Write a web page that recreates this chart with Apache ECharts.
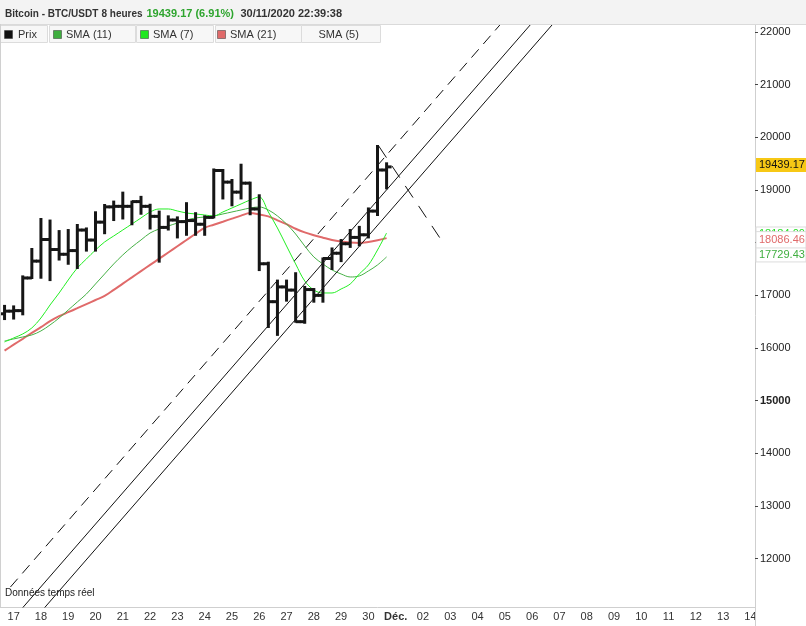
<!DOCTYPE html>
<html><head><meta charset="utf-8">
<script src="https://cdn.jsdelivr.net/npm/echarts@6/dist/echarts.min.js"></script>
<style>html,body{margin:0;padding:0;background:#fff}#c{width:806px;height:626px}</style>
</head><body><div id="c"></div>
<script>
// ---------- data ----------
const dayLabels = ['17','18','19','20','21','22','23','24','25','26','27','28','29','30','Déc.','02','03','04','05','06','07','08','09','10','11','12','13','14'];
const yTicks = [12000,13000,14000,15000,16000,17000,18000,19000,20000,21000,22000];
// 8h bars, first = 16/11 16h, last = 30/11 16h
const opens  = [16650,16700,16710,17330,17650,18060,17870,17780,17850,18240,18050,18390,18680,18690,18690,18780,18690,18500,18290,18430,18400,18420,18350,18480,19370,19150,18960,19130,18640,17600,16880,17160,17100,16500,17110,17000,17700,17800,17980,18100,18150,18600,19380];
const highs  = [16800,16790,17360,17880,18450,18420,18220,18240,18336,18270,18577,18715,18780,18950,18780,18870,18720,18590,18500,18480,18750,18560,18500,19390,19380,19190,19480,19140,18900,17620,17280,17280,17420,17160,17120,17700,17890,18050,18240,18300,18650,19836,19507];
const lows   = [16550,16560,16640,17330,17335,17290,17680,17600,17520,17850,17850,18180,18430,18460,18350,18550,18270,17640,18250,18100,18150,18150,18150,18480,18840,18710,18840,18540,17480,16400,16250,16900,16500,16480,16880,16880,17500,17650,17920,17950,18100,18526,19032];
const closes = [16700,16710,17330,17650,18060,17870,17780,17850,18240,18050,18390,18680,18690,18690,18780,18690,18500,18290,18430,18400,18420,18350,18480,19370,19150,18960,19130,18640,17600,16880,17160,17100,16500,17110,17000,17700,17800,17980,18100,18150,18600,19380,19439.17];
const sma7  = [16115,16191,16267,16381,16570,16817,17045,17292,17520,17691,17861,18013,18127,18241,18355,18469,18583,18640,18640,18602,18564,18545,18526,18507,18583,18659,18735,18811,18868,18583,18279,17937,17596,17273,17102,17045,17045,17121,17216,17406,17577,17861,18184];
const sma11 = [16134,16172,16210,16248,16324,16438,16570,16722,16874,17026,17216,17406,17596,17767,17918,18051,18184,18260,18317,18374,18431,18469,18488,18507,18545,18583,18621,18659,18678,18621,18507,18355,18165,17937,17729,17596,17482,17406,17349,17368,17463,17577,17729.43];
const sma21 = [15951,16063,16175,16289,16397,16509,16604,16680,16756,16834,16912,16988,17103,17223,17341,17460,17578,17696,17814,17933,18051,18169,18283,18341,18398,18457,18514,18562,18537,18499,18425,18351,18265,18195,18142,18095,18051,18022,18003,17994,18013,18045,18086.46];
// drawn lines, [bar position, price]
const trendDashed = [[-0.35, 11463],[60, 23432]];
const trendSolidA = [[-1.5, 10575],[60, 22771]];
const trendSolidB = [[-1.5, 10098],[60, 22295]];
const projection  = [[40.13, 19836],[47.23, 17994]];

// ---------- chart ----------
const FONT = '"Liberation Sans", Arial, sans-serif';
const chart = echarts.init(document.getElementById('c'));
const pos = i => i - 1;
const ohlc = opens.map((o,i)=>[pos(i), o, highs[i], lows[i], closes[i]]);
const asLine = arr => arr.map((v,i)=>[pos(i), v]);
const xTickPos = dayLabels.map((_,d)=>d*3);

const trendSeries = (data, type, name) => ({
  name, type:'line', data, showSymbol:false, silent:true, clip:true, z:3,
  lineStyle:{color:'#111', width:1, type}
});

chart.setOption({
  animation:false,
  grid:{left:-5.5, right:51, top:24, bottom:19, containLabel:false},
  xAxis:{type:'value', min:-1.5, max:81.5,
    axisLine:{show:true, onZero:false, lineStyle:{color:'#cfcfcf'}},
    axisTick:{show:false},
    splitLine:{show:false},
    axisLabel:{customValues:xTickPos, margin:4, color:'#333', fontSize:11, fontFamily:FONT,
      formatter:v=>{const l=dayLabels[Math.round(v/3)]; return l==='Déc.'?'{b|Déc.}':l;},
      rich:{b:{fontWeight:'bold', color:'#333', fontSize:11, fontFamily:FONT}}}
  },
  yAxis:{type:'value', position:'right', min:11083, max:22152, splitNumber:11,
    axisLine:{show:true, onZero:false, lineStyle:{color:'#cfcfcf'}},
    axisTick:{show:true, length:3, customValues:yTicks, lineStyle:{color:'#444'}},
    splitLine:{show:false},
    axisLabel:{customValues:yTicks, margin:5, color:'#222', fontSize:11, fontFamily:FONT,
      formatter:v=> v===15000 ? '{b|15000}' : String(v),
      rich:{b:{fontWeight:'bold', color:'#222', fontSize:11, fontFamily:FONT}}}
  },
  series:[
    {name:'SMA (21)', type:'line', data:asLine(sma21), showSymbol:false, smooth:0.35, z:2, lineStyle:{color:'#e06a6a', width:2}},
    {name:'SMA (11)', type:'line', data:asLine(sma11), showSymbol:false, smooth:0.35, z:2, lineStyle:{color:'#45b045', width:1}},
    {name:'SMA (7)', type:'line', data:asLine(sma7), showSymbol:false, smooth:0.35, z:2, lineStyle:{color:'#22ee22', width:1}},
    trendSeries(trendDashed, [11,7], 'dashed'),
    trendSeries(trendSolidA, 'solid', 'solidA'),
    trendSeries(trendSolidB, 'solid', 'solidB'),
    trendSeries(projection, [14,10], 'projection'),
    {name:'Prix', type:'custom', data:ohlc, z:4,
      encode:{x:0, y:[1,2,3,4]},
      renderItem:function(params, api){
        const k = api.value(0);
        const pO = api.coord([k, api.value(1)]);
        const yH = api.coord([k, api.value(2)])[1];
        const yL = api.coord([k, api.value(3)])[1];
        const yC = api.coord([k, api.value(4)])[1];
        const x = pO[0];
        const st = {stroke:'#161616', lineWidth:3};
        return {type:'group', children:[
          {type:'line', shape:{x1:x, y1:yH-1, x2:x, y2:yL+1}, style:st},
          {type:'line', shape:{x1:x-5, y1:pO[1], x2:x, y2:pO[1]}, style:st},
          {type:'line', shape:{x1:x, y1:yC, x2:x+5, y2:yC}, style:st}
        ]};
      }
    }
  ]
});

// ---------- overlays (header, legend, price labels) ----------
const yOf = v => chart.convertToPixel({yAxisIndex:0}, v);
const g = [];
const Z = 100;
const txt = (x,y,text,fill,font) => ({type:'text', z:Z, x, y,
  style:{text, fill, font, textVerticalAlign:'middle', verticalAlign:'middle'}});
// header
g.push({type:'rect', z:Z, shape:{x:0,y:0,width:806,height:24}, style:{fill:'#f3f3f3'}});
g.push({type:'line', z:Z, shape:{x1:0,y1:24.5,x2:806,y2:24.5}, style:{stroke:'#dadada', lineWidth:1}});
g.push(txt(5,14,'Bitcoin - BTC/USDT','#333','bold 10px ' + FONT));
g.push(txt(101.5,14,'8 heures','#333','bold 10px ' + FONT));
g.push(txt(146.5,14,'19439.17 (6.91%)','#2ea52e','bold 11px ' + FONT));
g.push(txt(240.5,14,'30/11/2020 22:39:38','#333','bold 11px ' + FONT));
// legend cells
const cells = [[0.5,47],[49.5,86],[136.5,77],[215.5,86],[301.5,79]];
cells.forEach(c=>g.push({type:'rect', z:Z, shape:{x:c[0], y:25.5, width:c[1], height:17}, style:{fill:'#f7f7f7', stroke:'#dcdcdc', lineWidth:1}}));
const legendItems = [
  {sw:4.5, tx:18, label:'Prix', color:'#111'},
  {sw:53.5, tx:66, label:'SMA (11)', color:'#3fae3f'},
  {sw:140.5, tx:153, label:'SMA (7)', color:'#1ee81e'},
  {sw:217.5, tx:230, label:'SMA (21)', color:'#e06a6a'},
  {sw:null, tx:318.5, label:'SMA (5)', color:null}
];
const LF = '11px ' + FONT;
legendItems.forEach(it=>{
  if (it.sw!==null) g.push({type:'rect', z:Z, shape:{x:it.sw, y:30.5, width:8, height:8}, style:{fill:it.color, stroke:'#333', lineWidth:0.5}});
  g.push(txt(it.tx, 35, it.label, '#333', LF));
});
// realtime note
g.push(txt(5, 593, 'Données temps réel', '#222', '10px ' + FONT));
// left border
g.push({type:'line', z:Z, shape:{x1:0.5,y1:24,x2:0.5,y2:607}, style:{stroke:'#d0d0d0', lineWidth:1}});
// mask overflowing last x label
g.push({type:'rect', z:Z, shape:{x:756, y:608, width:50, height:18}, style:{fill:'#fff'}});
g.push({type:'line', z:Z+1, shape:{x1:755.5,y1:600,x2:755.5,y2:626}, style:{stroke:'#cfcfcf', lineWidth:1}});
// right value labels
const lastClose = closes[closes.length-1];
const y7 = yOf(sma7[sma7.length-1]) + 1;
const y21 = yOf(sma21[sma21.length-1]) + 2;
const y11 = yOf(sma11[sma11.length-1]) - 2;
const yP = yOf(lastClose) - 2;
const valBox = (y, text, color, fill, h) => {
  h = h || 14;
  g.push({type:'rect', z:Z, shape:{x:756, y:y-h/2, width:50, height:h}, style:{fill:fill||'#fff', stroke: fill?null:'#dcdcdc', lineWidth:1}});
  g.push(txt(759, y, text, color, LF));
};
valBox(y7, sma7[sma7.length-1].toFixed(2), '#22dd22');
valBox(y21, sma21[sma21.length-1].toFixed(2), '#e06a6a', null, 17);
valBox(y11, sma11[sma11.length-1].toFixed(2), '#3fae3f');
valBox(yP, lastClose.toFixed(2), '#111', '#f7c815');
chart.setOption({graphic:g});
</script></body></html>
